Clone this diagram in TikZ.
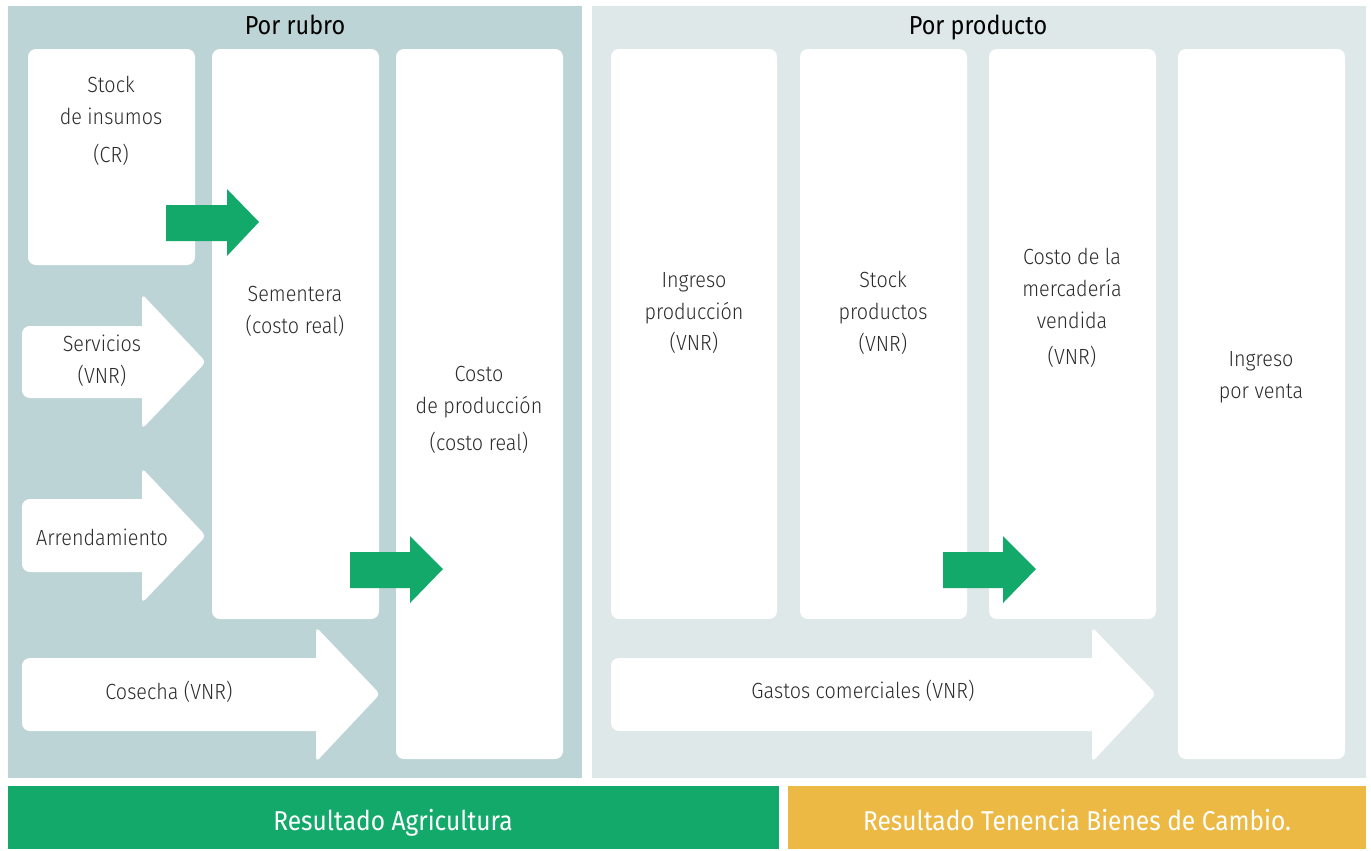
\documentclass[tikz,border=0pt]{standalone}
\usepackage{fontspec}
\setmainfont{Fira Sans Light}[FakeStretch=0.9]
\newfontfamily\ttlfont{Fira Sans}[FakeStretch=0.9]
\usetikzlibrary{positioning}
\definecolor{panelA}{HTML}{BDD4D6}
\definecolor{panelB}{HTML}{DFE8E9}
\definecolor{greenbar}{HTML}{13A96B}
\definecolor{ochrebar}{HTML}{EBB944}
\definecolor{txt}{HTML}{2B2B2B}
\tikzset{
  whitebox/.style={fill=white, rounded corners=4.5pt},
  lbl/.style={text=txt, align=center, inner sep=0pt, font=\fontsize{12.5}{18.1}\selectfont},
  ttl/.style={text=black, inner sep=0pt, anchor=base, font=\ttlfont\fontsize{14.8}{16}\selectfont},
  barlbl/.style={text=white, inner sep=0pt, anchor=base, font=\ttlfont\fontsize{15.5}{18}\selectfont},
  garrow/.style={fill=greenbar},
  warrowhead/.style={fill=white, rounded corners=2.5pt},
}
\begin{document}
\begin{tikzpicture}[x=0.02cm,y=-0.02cm]
\useasboundingbox (0,0) rectangle (1371,850);
\fill[white] (0,0) rectangle (1371,850);
% panels
\fill[panelA] (8,6) rectangle (582,778);
\fill[panelB] (592,6) rectangle (1366,778);
\node[ttl] (t1) at (295,34) {Por rubro};
\node[ttl] (t2) at (978,34) {Por producto};
% boxes left
\path[whitebox] (28,49) rectangle (195,265);
\path[whitebox] (212,49) rectangle (379,619);
\path[whitebox] (396,49) rectangle (563,759);
% boxes right
\path[whitebox] (611,49) rectangle (777,619);
\path[whitebox] (800,49) rectangle (967,619);
\path[whitebox] (989,49) rectangle (1156,619);
\path[whitebox] (1178,49) rectangle (1345,759);
% white arrows
\path[whitebox] (22,326) rectangle (160,398);
\path[warrowhead] (142,294) -- (206,362) -- (142,429) -- cycle;
\path[whitebox] (22,499) rectangle (160,572);
\path[warrowhead] (142,468) -- (206,536) -- (142,603) -- cycle;
\path[whitebox] (22,658) rectangle (335,731);
\path[warrowhead] (316,627) -- (380,694) -- (316,762) -- cycle;
\path[whitebox] (611,658) rectangle (1110,731);
\path[warrowhead] (1092,627) -- (1156,694) -- (1092,762) -- cycle;
% green arrows
\path[garrow] (166,205) -- (227,205) -- (227,189) -- (259,222) -- (227,256) -- (227,241) -- (166,241) -- cycle;
\path[garrow] (350,552) -- (410,552) -- (410,536) -- (443,569) -- (410,603) -- (410,588) -- (350,588) -- cycle;
\path[garrow] (943,552) -- (1003,552) -- (1003,536) -- (1036,569) -- (1003,603) -- (1003,588) -- (943,588) -- cycle;
% labels
\node[lbl] (stock) at (111,121) {Stock\\de insumos\\[3.4pt](CR)};
\node[lbl] (sem) at (295,311) {Sementera\\(costo real)};
\node[lbl] (cprod) at (479,410) {Costo\\de producción\\[3.4pt](costo real)};
\node[lbl] (serv) at (102,361) {Servicios\\(VNR)};
\node[lbl] (arr) at (102,537) {Arrendamiento};
\node[lbl] (cos) at (169,692) {Cosecha (VNR)};
\node[lbl] (ingp) at (694,313) {Ingreso\\producción\\(VNR)};
\node[lbl] (stp) at (883,313) {Stock\\productos\\(VNR)};
\node[lbl] (cmv) at (1072,308) {Costo de la\\mercadería\\vendida\\[2.3pt](VNR)};
\node[lbl] (ingv) at (1261,377) {Ingreso\\por venta};
\node[lbl] (gast) at (863,691) {Gastos comerciales (VNR)};
% bottom bars
\fill[greenbar] (8,786) rectangle (779,849);
\fill[ochrebar] (788,786) rectangle (1366,849);
\node[barlbl] (ra) at (393,830) {Resultado Agricultura};
\node[barlbl] (rt) at (1077,830) {Resultado Tenencia Bienes de Cambio.};
\end{tikzpicture}
\end{document}
